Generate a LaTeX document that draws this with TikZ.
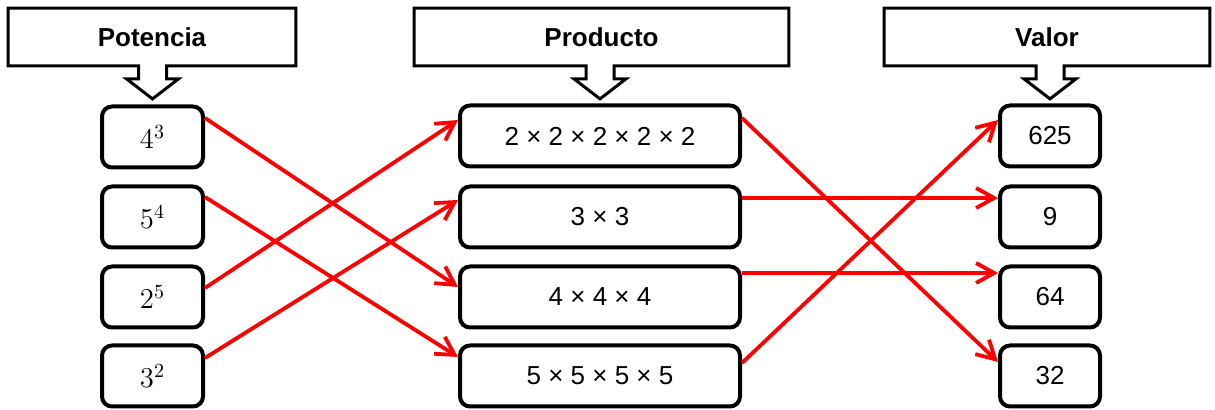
\documentclass[tikz,border=0pt]{standalone}
\usepackage[no-math]{fontspec}
\setmainfont{Liberation Sans}
\usepackage{tikz}
\usetikzlibrary{calc,arrows.meta}
\definecolor{ink}{HTML}{000000}
\definecolor{link}{HTML}{FF0000}
\tikzset{
  box/.style={draw=ink, line width=2pt, rounded corners=5pt, inner sep=0pt, minimum height=30.5pt, font=\fontsize{13}{15}\selectfont},
  pbox/.style={box, minimum width=50.5pt, font=\fontsize{14.5}{16}\selectfont},
  mbox/.style={box, minimum width=140pt},
  vbox/.style={box, minimum width=50pt},
  head/.style={inner sep=0pt, minimum height=28.5pt, font=\bfseries\fontsize{13}{15}\selectfont},
  callout/.style={draw=ink, line width=1.5pt, line join=miter},
  arr/.style={draw=link, line width=1.9pt, -{Straight Barb[length=9pt,width=10pt]}},
}

\begin{document}
\begin{tikzpicture}[x=0.5pt,y=-0.5pt]
  \useasboundingbox (0,0) rectangle (1215,410);
  % headers
  \node[head, minimum width=143.5pt] (hp) at (152,37) {Potencia};
  \node[head, minimum width=187pt] (hq) at (601.5,37) {Producto};
  \node[head, minimum width=162.5pt] (hv) at (1047,37) {Valor};
  % powers
  \node[pbox] (p1) at (152.5,137) {$4^{3}$};
  \node[pbox] (p2) at (152.5,217) {$5^{4}$};
  \node[pbox] (p3) at (152.5,297) {$2^{5}$};
  \node[pbox] (p4) at (152.5,376) {$3^{2}$};
  % products
  \node[mbox] (q1) at (600,136) {2 × 2 × 2 × 2 × 2};
  \node[mbox] (q2) at (600,217) {3 × 3};
  \node[mbox] (q3) at (600,297) {4 × 4 × 4};
  \node[mbox] (q4) at (600,376) {5 × 5 × 5 × 5};
  % values
  \node[vbox] (v1) at (1050,136) {625};
  \node[vbox] (v2) at (1050,217) {9};
  \node[vbox] (v3) at (1050,297) {64};
  \node[vbox] (v4) at (1050,376) {32};
  \foreach \h/\col in {hp/p1, hq/q1, hv/v1}
    \draw[callout] (\h.north west) -- (\h.north east) -- (\h.south east)
      -- ($(\h.south -| \col)+(14,0)$) -- ++(0,13) -- ++(12,0)
      -- ($(\h.south -| \col)+(0,33)$) -- ++(-26,-20) -- ++(12,0) -- ++(0,-13)
      -- (\h.south west) -- cycle;
  % power -> product
  \draw[arr] ([yshift=9.5pt]p1.east) -- ([yshift=5pt]q3.west);
  \draw[arr] ([yshift=10pt]p2.east) -- ([yshift=9.5pt]q4.west);
  \draw[arr] ([yshift=4.5pt]p3.east) -- ([yshift=8pt]q1.west);
  \draw[arr] ([yshift=9pt]p4.east) -- ([yshift=8.5pt]q2.west);
  % product -> value
  \draw[arr] ([yshift=9pt]q1.east) -- ([yshift=7pt]v4.west);
  \draw[arr] ([yshift=9.5pt]q2.east) -- ([yshift=9.5pt]v2.west);
  \draw[arr] ([yshift=12pt]q3.east) -- ([yshift=12pt]v3.west);
  \draw[arr] ([yshift=6.5pt]q4.east) -- ([yshift=8pt]v1.west);
\end{tikzpicture}
\end{document}
